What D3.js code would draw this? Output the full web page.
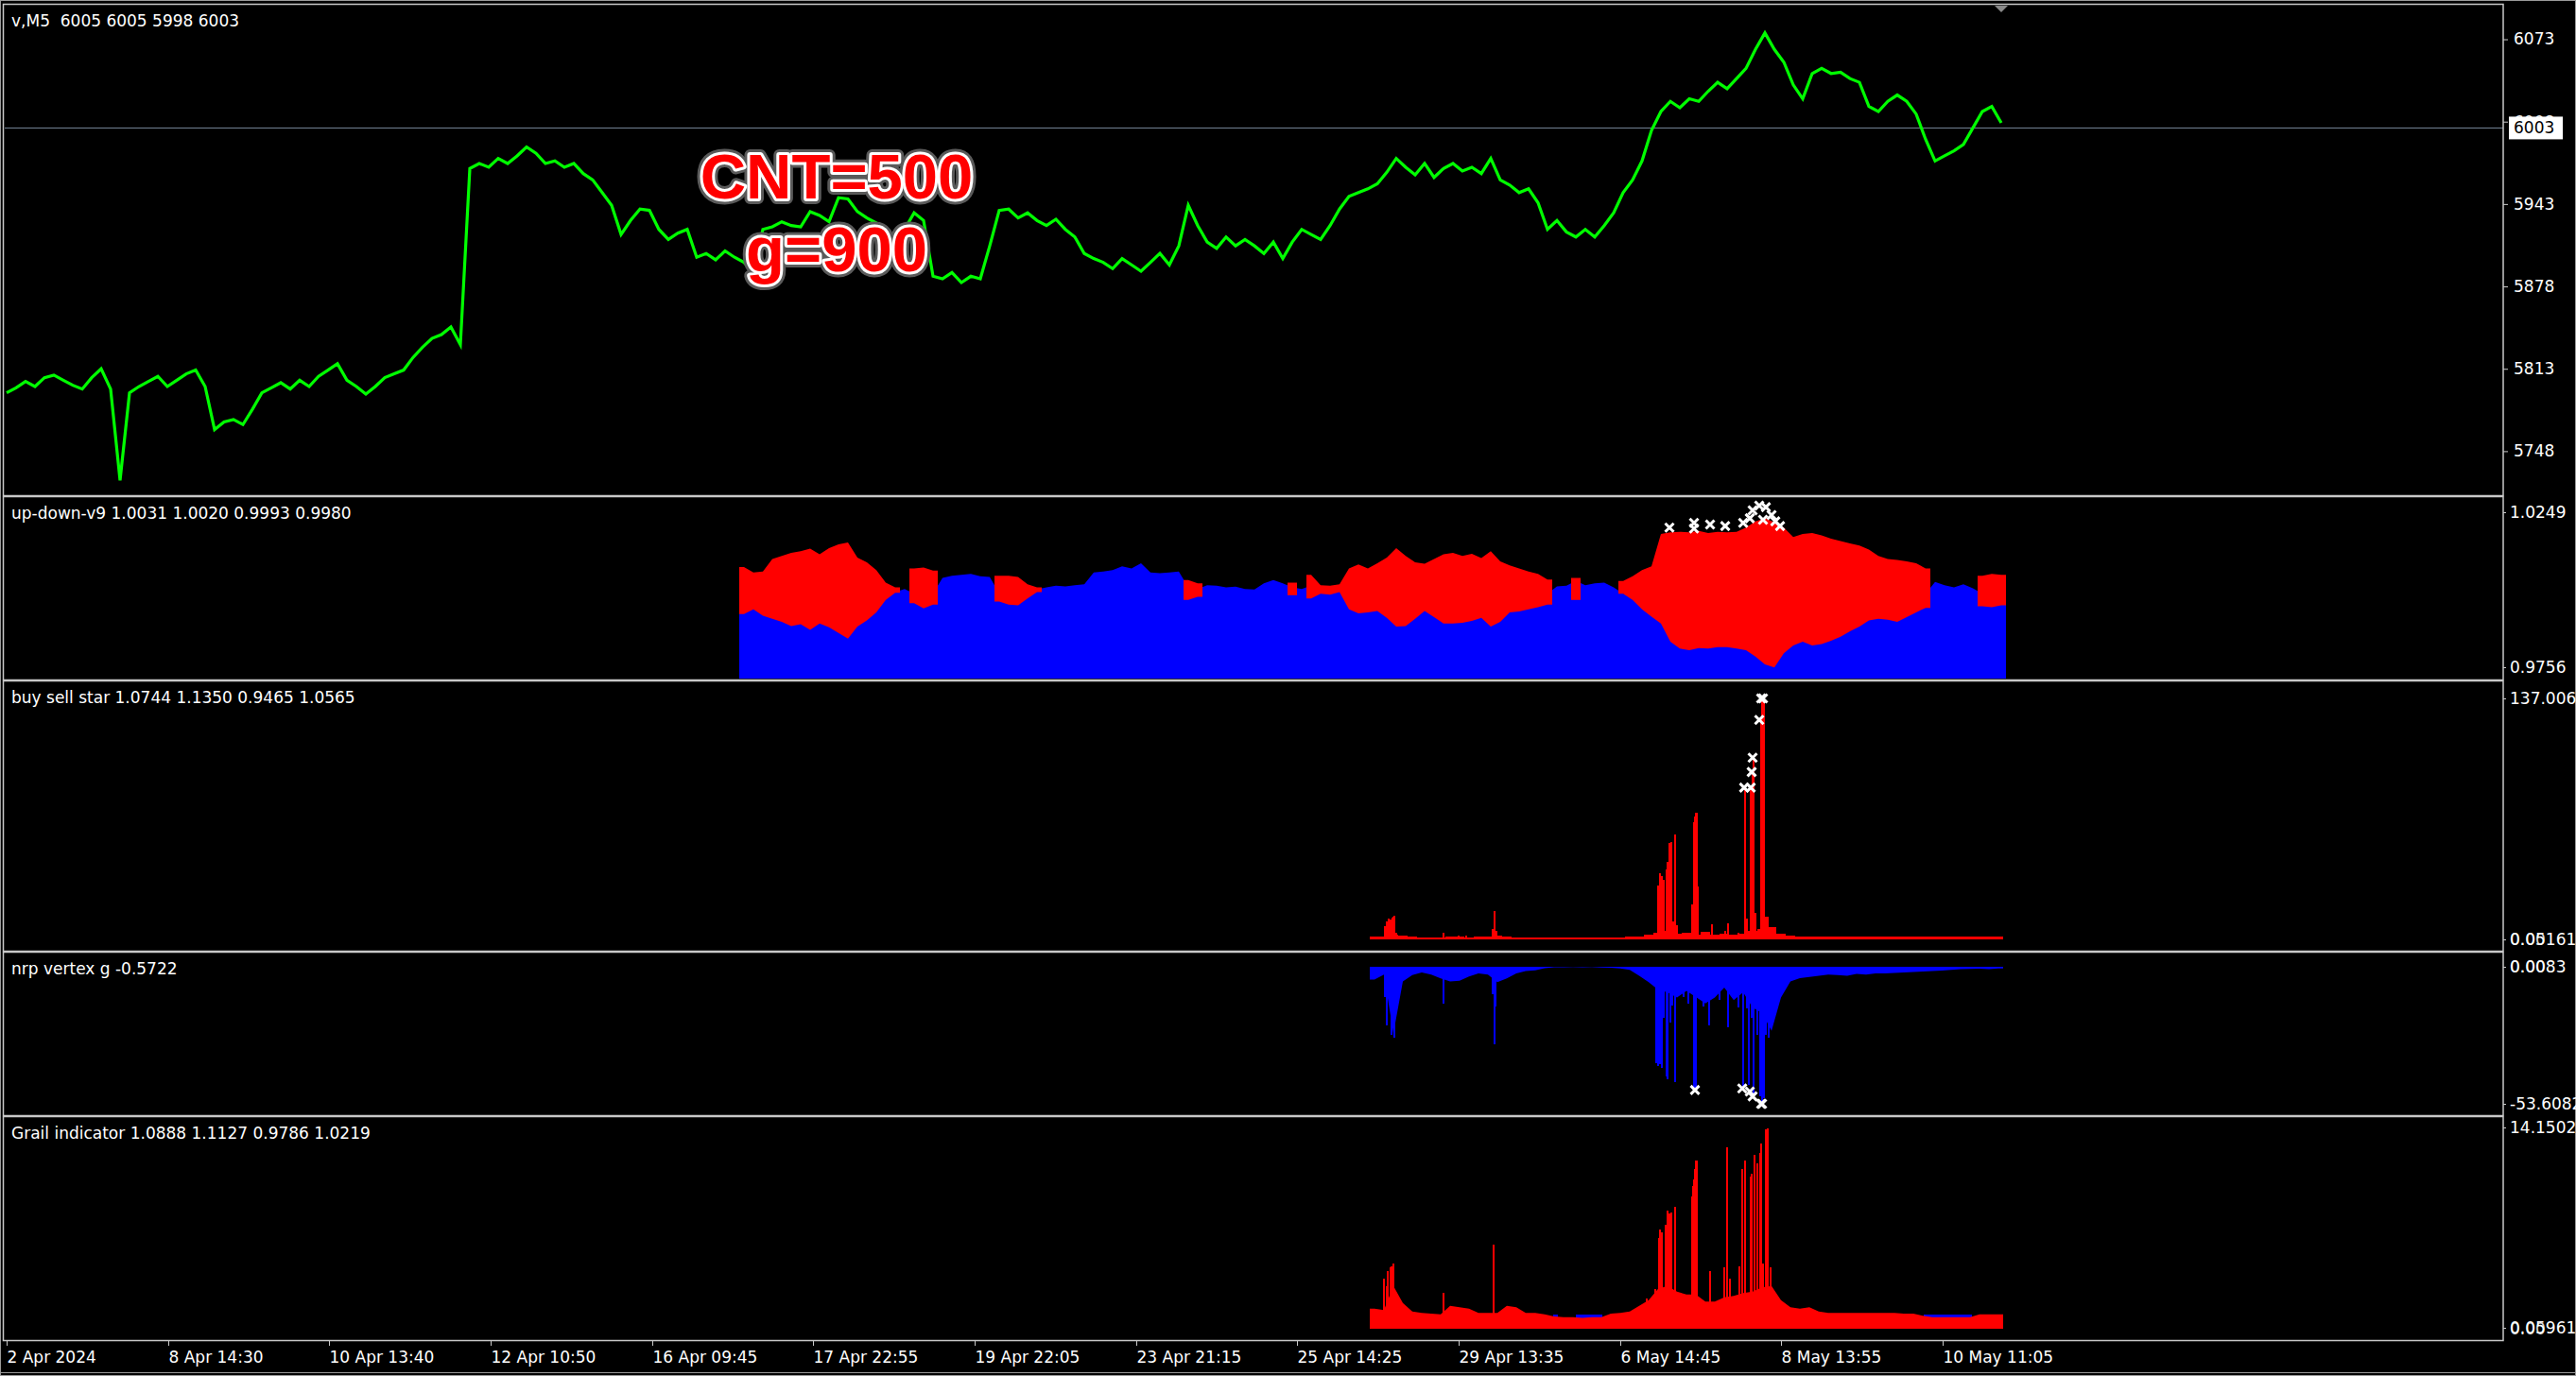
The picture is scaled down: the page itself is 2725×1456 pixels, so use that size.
<!DOCTYPE html>
<html><head><meta charset="utf-8">
<script src="https://cdn.jsdelivr.net/npm/d3@7"></script>
<style>
html,body{margin:0;padding:0;background:#000;}
svg{display:block;}
text{font-family:"DejaVu Sans",Verdana,sans-serif;}
</style></head><body>
<svg id="chart" width="2725" height="1456"></svg>
<script>
// ---------------- DATA ----------------
const timeLabels = ["2 Apr 2024","8 Apr 14:30","10 Apr 13:40","12 Apr 10:50","16 Apr 09:45","17 Apr 22:55","19 Apr 22:05","23 Apr 21:15","25 Apr 14:25","29 Apr 13:35","6 May 14:45","8 May 13:55","10 May 11:05"];
const timeTickBars = [0,171,341,512,683,853,1024,1195,1365,1536,1707,1877,2048];

const priceTicks = [6073,6008,5943,5878,5813,5748];
const lastPrice = 6003;
const priceStep = 10; // bars between samples
const price = [
5794,5798,5803,5799,5806,5808,5804,5800,5797,5806,
5813,5797,5725,5794,5799,5803,5807,5799,5804,5809,
5812,5799,5765,5771,5773,5769,5781,5794,5798,5802,
5797,5804,5799,5807,5812,5817,5804,5799,5793,5799,
5806,5809,5812,5822,5830,5837,5840,5846,5832,5971,
5975,5972,5979,5975,5981,5988,5983,5975,5977,5972,
5975,5967,5962,5952,5942,5919,5930,5939,5938,5923,
5915,5920,5923,5901,5904,5899,5906,5901,5897,5889,
5923,5925,5929,5926,5925,5937,5934,5929,5948,5947,
5937,5932,5928,5910,5899,5923,5936,5930,5886,5884,
5889,5881,5886,5884,5910,5938,5939,5932,5936,5930,
5926,5931,5923,5917,5904,5900,5897,5892,5900,5895,
5890,5897,5904,5895,5910,5942,5926,5913,5908,5917,
5910,5915,5910,5904,5913,5900,5913,5923,5919,5915,
5926,5939,5949,5952,5955,5959,5968,5979,5972,5966,
5975,5964,5971,5975,5969,5972,5967,5979,5962,5958,
5952,5955,5944,5923,5930,5921,5917,5923,5917,5926,
5936,5952,5962,5977,6001,6016,6024,6019,6026,6024,
6032,6039,6034,6042,6050,6065,6078,6065,6055,6037,
6026,6046,6050,6046,6047,6042,6039,6020,6016,6024,
6029,6024,6014,5994,5977,5981,5985,5990,6003,6016,
6020,6007];

// up-down-v9 (one sample per 10 bars, from bar 775)
const udStart = 775, udStep = 10;
const udTicks = [1.0249, 0.9756];
const udBlue = [
0.9990,0.9990,0.9990,0.9990,0.9990,0.9990,0.9990,0.9990,0.9990,0.9990,0.9990,0.9990,0.9990,0.9990,0.9990,0.9990,
0.9995,1.0005,0.9990,0.9990,0.9990,
1.0040,1.0047,1.0050,1.0053,1.0045,1.0043,
0.9990,0.9990,0.9990,0.9990,1.0003,
1.0010,1.0015,1.0013,1.0017,1.0020,
1.0057,1.0060,1.0065,1.0077,1.0070,1.0087,1.0057,1.0055,1.0057,1.0060,
1.0010,1.0005,
1.0017,1.0015,1.0010,1.0012,1.0005,1.0003,1.0023,1.0033,1.0023,
1.0010,1.0005,1.0015,1.0010,1.0010,1.0015,
0.9990,0.9990,0.9990,0.9990,0.9990,0.9990,0.9990,0.9990,0.9990,0.9990,0.9990,
0.9990,0.9990,0.9990,0.9990,0.9990,0.9990,0.9990,0.9990,0.9990,0.9990,0.9990,
1.0013,1.0015,1.0030,1.0017,1.0023,1.0025,1.0010,
0.9990,0.9990,0.9990,0.9990,0.9990,0.9990,0.9990,0.9990,0.9990,0.9990,0.9990,
0.9990,0.9990,0.9990,0.9990,0.9990,0.9990,0.9990,0.9990,0.9990,0.9990,0.9990,
0.9990,0.9990,0.9990,0.9990,0.9990,0.9990,0.9990,0.9990,0.9990,0.9990,0.9990,
1.0027,1.0017,1.0010,1.0020,1.0007,
0.9990,0.9990,0.9990];
const udRedHi = [
1.0075,1.0057,1.0060,1.0100,1.0110,1.0120,1.0125,1.0133,1.0115,1.0135,1.0147,1.0153,1.0105,1.0090,1.0065,1.0025,
1.0010,null,1.0070,1.0073,1.0063,
null,null,null,null,null,null,
1.0047,1.0047,1.0043,1.0020,1.0010,
null,null,null,null,null,
null,null,null,null,null,null,null,null,null,null,
1.0033,1.0023,
null,null,null,null,null,null,null,null,null,
1.0025,null,1.0050,1.0017,1.0015,1.0020,
1.0070,1.0083,1.0070,1.0087,1.0105,1.0135,1.0110,1.0090,1.0085,1.0100,1.0115,
1.0120,1.0110,1.0117,1.0103,1.0125,1.0093,1.0080,1.0070,1.0060,1.0053,1.0035,
null,null,1.0040,null,null,null,null,
1.0030,1.0045,1.0065,1.0077,1.0180,1.0185,1.0187,1.0185,1.0190,1.0183,1.0187,
1.0185,1.0187,1.0200,1.0220,1.0230,1.0217,1.0200,1.0170,1.0180,1.0183,1.0175,
1.0165,1.0157,1.0150,1.0143,1.0130,1.0110,1.0100,1.0097,1.0093,1.0087,1.0070,
null,null,null,null,null,
1.0047,1.0053,1.0050];
const udRedLo = [
0.9925,0.9940,0.9920,0.9910,0.9900,0.9887,0.9893,0.9875,0.9895,0.9883,0.9865,0.9847,0.9885,0.9905,0.9930,0.9970,
0.9993,null,0.9960,0.9943,0.9955,
null,null,null,null,null,null,
0.9965,0.9955,0.9953,0.9975,0.9995,
null,null,null,null,null,
null,null,null,null,null,null,null,null,null,null,
0.9970,0.9980,
null,null,null,null,null,null,null,null,null,
0.9985,null,0.9975,0.9990,0.9987,0.9995,
0.9940,0.9927,0.9930,0.9935,0.9913,0.9885,0.9887,0.9910,0.9935,0.9915,0.9895,
0.9895,0.9897,0.9903,0.9913,0.9885,0.9900,0.9930,0.9933,0.9940,0.9947,0.9955,
null,null,0.9970,null,null,null,null,
0.9990,0.9970,0.9940,0.9917,0.9895,0.9837,0.9815,0.9810,0.9817,0.9815,0.9820,
0.9820,0.9815,0.9810,0.9790,0.9765,0.9755,0.9800,0.9825,0.9837,0.9825,0.9830,
0.9840,0.9853,0.9870,0.9885,0.9905,0.9910,0.9907,0.9900,0.9915,0.9930,0.9945,
null,null,null,null,null,
0.9950,0.9947,0.9953];
const udMarkBars = [1759,1785,1785,1802,1818,1837,1844,1847,1854,1858,1861,1867,1871,1876];
const udMarkVals = [1.0200,1.0215,1.0197,1.0210,1.0205,1.0215,1.0230,1.0255,1.0270,1.0225,1.0265,1.0240,1.0220,1.0205];

// buy sell star
const bssStart = 1442, bssStep = 10;
const bssTicks = [137.006, 0.05161];
const bssBase = [
1.4,1.8,3.0,2.0,1.4,1.3,1.3,1.3,1.5,1.4,
1.3,1.4,1.4,2.0,1.6,1.3,1.3,1.3,1.3,1.3,
1.3,1.3,1.3,1.3,1.3,1.3,1.3,1.4,1.8,2.5,
4.0,5.0,3.5,4.0,3.0,4.5,3.0,3.5,2.5,3.5,
5.0,6.0,7.0,3.5,2.0,1.6,1.4,1.4,1.4,1.4,
1.4,1.4,1.4,1.4,1.4,1.4,1.4,1.4,1.4,1.4,
1.4,1.4,1.4,1.4,1.4,1.4,1.4];
const bssSpikeBars = [1457,1459,1461,1463,1465,1466,1467,1469,1472,1519,1535,1543,1571,1573,1575,
 1746,1748,1750,1752,1755,1756,1758,1760,1762,1764,1766,1782,1784,1785,1786,1787,1788,
 1803,1817,1820,1831,1838,1840,1844,1846,1847,1849,1855,1856,1858,1860,1862,1865];
const bssSpikeVals = [7.5,10.2,12,11.5,12.3,12.9,13.5,3.9,2.0,3.9,2.0,2.0,6,16.1,5,
 30.8,37.6,36.1,34,40,44.2,54.9,55.5,10,59.8,8,20,66.6,70,72,72,30,
 8.4,5,9.3,4,85.4,12,86.3,95.2,103.3,15,124.8,137,137,12.9,12.9,6];
const bssBlueStart = [1629,1661], bssBlueEnd = [1645,1686], bssBlueVal = [1.0,1.0];
const bssMarkBars = [1838,1845,1846,1847,1854,1856,1858];
const bssMarkVals = [86.3,86.3,95.2,103.3,124.8,137.0,137.0];

// nrp vertex g
const nrpStart = 1442, nrpStep = 10;
const nrpTicks = [0.0083, -53.6082];
const nrpBase = [
-5.0,-3.0,-26.0,-5.7,-3.2,-2.2,-3.0,-4.5,-5.7,-5.4,
-3.8,-2.6,-3.0,-6.0,-4.5,-2.6,-1.7,-1.4,-0.5,-0.2,
-0.2,-0.1,-0.2,-0.1,-0.3,-0.4,-0.6,-1.2,-3.5,-6.0,
-9.0,-10.0,-12.0,-9.4,-11.8,-14.3,-12.0,-8.1,-13.0,-10.0,
-16.0,-18.0,-25.0,-12.0,-5.7,-4.4,-4.0,-3.5,-3.0,-3.2,
-3.5,-2.8,-3.0,-2.6,-2.6,-2.4,-2.2,-2.0,-1.8,-1.7,
-1.5,-1.2,-0.9,-0.8,-0.7,-0.9,-0.6];
const nrpSpikeBars = [1457,1459,1464,1467,1519,1571,1573,1574,
 1744,1746,1748,1750,1752,1755,1756,1759,1761,1764,1768,1773,1778,1784,1786,
 1792,1794,1800,1811,1820,1831,1836,1840,1842,1845,1847,1849,1851,1854,1856,1858,1860,1863,1865,1867];
const nrpSpikeVals = [-11.8,-23,-26.6,-27.9,-14.3,-10.6,-30.3,-15.5,
 -37.7,-39,-38,-39.6,-19.9,-42.7,-43.9,-21.7,-15,-45.1,-9.4,-11.8,-14.3,-47.6,-47.6,
 -12,-15.5,-23,-13.1,-23.5,-16,-47.6,-16.1,-46.3,-20,-50,-16,-26.6,-50.7,-54,-51.5,-26.6,-27.9,-17.4,-9.4];
const nrpMarkBars = [1786,1836,1844,1847,1856,1857];
const nrpMarkVals = [-48.2,-47.6,-48.8,-50.7,-53.6,-53.6];

// Grail indicator
const grStart = 1442, grStep = 10;
const grTicks = [14.1502, 0.05961];
const grBase = [
1.4,1.3,3.0,1.8,1.2,1.1,1.05,1.0,1.6,1.5,
1.4,1.1,1.1,1.1,1.6,1.5,1.1,1.1,1.0,0.85,
0.8,0.8,0.75,0.8,0.8,1.05,1.1,1.2,1.6,2.0,
2.8,3.0,2.6,2.4,2.4,1.9,1.9,2.2,2.3,2.5,
2.6,2.9,3.0,2.0,1.5,1.4,1.5,1.2,1.1,1.1,
1.1,1.1,1.1,1.1,1.1,1.1,1.05,1.05,0.9,0.8,
0.8,0.8,0.8,0.8,1.0,1.0,1.0];
const grSpikeBars = [1456,1459,1460,1463,1464,1466,1467,1469,1519,1572,1734,1743,
 1747,1748,1750,1754,1756,1758,1760,1764,1782,1783,1784,1785,1786,1787,
 1801,1816,1819,1822,1832,1835,1838,1844,1845,1848,1851,1854,1855,1857,1860,1862,1865,1867];
const grSpikeVals = [3.5,3.0,4.05,4.3,4.4,4.6,2.5,2.5,2.5,5.9,2.1,2.8,
 6.4,7.0,6.8,7.3,8.3,8.1,8.15,8.6,9.3,10.0,10.5,11.2,11.8,11.8,
 4.05,4.3,12.76,3.5,4.4,11.25,11.8,10.7,10.9,12.25,11.6,12.36,13.0,4.6,14.0,14.09,4.3,2.7];
const grBlueStart = [1636,1660,2028], grBlueEnd = [1641,1688,2079], grBlueVal = [1.0,1.0,1.0];

const titles = {
  main: "v,M5  6005 6005 5998 6003",
  ud: "up-down-v9 1.0031 1.0020 0.9993 0.9980",
  bss: "buy sell star 1.0744 1.1350 0.9465 1.0565",
  nrp: "nrp vertex g -0.5722",
  grail: "Grail indicator 1.0888 1.1127 0.9786 1.0219"
};
const noteLines = ["CNT=500", "g=900"];

// ---------------- LAYOUT ----------------
const W = 2725, H = 1456;
const PL = 5, PR = 2648;
const layout = {
  main: {top: 6, bottom: 523},
  ud: {top: 527, bottom: 718},
  bss: {top: 722, bottom: 1005},
  nrp: {top: 1009, bottom: 1179},
  grail: {top: 1183, bottom: 1417}
};
const FONT = 17;
const FG = "#ffffff";

const svg = d3.select("#chart");
svg.append("rect").attr("width", W).attr("height", H).attr("fill", "#000");

const x = d3.scaleLinear().domain([0, 2641]).range([7, 2648]);
const yMain = d3.scaleLinear().domain([5714, 6099.5]).range([523, 6]);
const yUD = d3.scaleLinear().domain([udTicks[1], udTicks[0]]).range([706, 542]);
const yBSS = d3.scaleLinear().domain([bssTicks[1], bssTicks[0]]).range([994, 739]);
const yNRP = d3.scaleLinear().domain([nrpTicks[1], nrpTicks[0]]).range([1168, 1023]);
const yGR = d3.scaleLinear().domain([grTicks[1], grTicks[0]]).range([1405, 1193]);

const defs = svg.append("defs");
Object.entries(layout).forEach(([k, p]) => {
  defs.append("clipPath").attr("id", "clip-" + k).append("rect")
    .attr("x", PL).attr("y", p.top).attr("width", PR - PL).attr("height", p.bottom - p.top);
});
const layer = k => svg.append("g").attr("clip-path", `url(#clip-${k})`);

function drawBars(g, data, y, color) {
  g.append("g").selectAll("rect").data(data).join("rect")
    .attr("x", d => x(d.b0))
    .attr("width", d => Math.max(1, x(d.b1) - x(d.b0)))
    .attr("y", d => Math.min(y(d.v0), y(d.v1)))
    .attr("height", d => Math.max(1, Math.abs(y(d.v1) - y(d.v0))))
    .attr("fill", color).attr("shape-rendering", "crispEdges");
}
// filled band between lo/hi series, split into runs of defined samples
function drawBand(g, lo, hi, start, step, y, color) {
  const runs = [];
  let cur = null;
  hi.forEach((v, k) => {
    if (v != null && lo[k] != null) {
      if (!cur) { cur = []; runs.push(cur); }
      cur.push(k);
    } else cur = null;
  });
  const area = d3.area().x(d => x(d.b)).y0(d => y(d.lo)).y1(d => y(d.hi));
  runs.forEach(r => {
    const pts = [];
    pts.push({b: start + step * r[0], lo: lo[r[0]], hi: hi[r[0]]});
    r.forEach(k => pts.push({b: start + step * k + step / 2, lo: lo[k], hi: hi[k]}));
    const kl = r[r.length - 1];
    pts.push({b: start + step * (kl + 1), lo: lo[kl], hi: hi[kl]});
    g.append("path").datum(pts).attr("d", area).attr("fill", color);
  });
}
const xPath = s => `M${-s},${-s}L${s},${s}M${-s},${s}L${s},${-s}`;
function drawMarks(g, bars, vals, y) {
  g.append("g").selectAll("path").data(bars.map((b, i) => ({b, v: vals[i]}))).join("path")
    .attr("d", xPath(4.5))
    .attr("transform", d => `translate(${x(d.b)},${y(d.v)})`)
    .attr("stroke", "#fff").attr("stroke-width", 3).attr("fill", "none");
}

// ---------- main price ----------
const gMain = layer("main");
gMain.append("line").attr("x1", PL).attr("x2", PR)
  .attr("y1", yMain(lastPrice)).attr("y2", yMain(lastPrice))
  .attr("stroke", "#778899").attr("stroke-width", 1);
gMain.append("path").datum(price)
  .attr("d", d3.line().x((d, i) => x(i * priceStep)).y(d => yMain(d)))
  .attr("fill", "none").attr("stroke", "#00ff00").attr("stroke-width", 3.2)
  .attr("stroke-linejoin", "miter");

// note text
const note = svg.append("g");
noteLines.forEach((t, i) => {
  const ty = i === 0 ? 210 : 287;
  note.append("text").attr("x", 885).attr("y", ty).attr("text-anchor", "middle")
    .style("font-family", "'Liberation Sans',Arial,sans-serif").style("font-weight", "bold")
    .style("font-size", "67px").attr("fill", "none").attr("stroke", "#5a5a5a")
    .attr("stroke-width", 12).attr("stroke-linejoin", "round").text(t);
  note.append("text").attr("x", 885).attr("y", ty).attr("text-anchor", "middle")
    .style("font-family", "'Liberation Sans',Arial,sans-serif").style("font-weight", "bold")
    .style("font-size", "67px").attr("fill", "#ff0000").attr("stroke", "#ffffff")
    .attr("stroke-width", 6).attr("stroke-linejoin", "round")
    .style("paint-order", "stroke").text(t);
});

// ---------- up-down ----------
const gUD = layer("ud");
drawBand(gUD, udBlue.map(() => 0.96), udBlue, udStart, udStep, yUD, "#0000ff");
drawBand(gUD, udRedLo, udRedHi, udStart, udStep, yUD, "#ff0000");
drawMarks(svg.append("g"), udMarkBars, udMarkVals, yUD);

// ---------- buy sell star ----------
const gB = layer("bss");
drawBars(gB, bssBlueStart.map((s, i) => ({b0: s, b1: bssBlueEnd[i], v0: 0, v1: bssBlueVal[i]})), yBSS, "#0000ff");
drawBars(gB, bssBase.map((v, j) => ({b0: bssStart + bssStep * j, b1: bssStart + bssStep * (j + 1), v0: 0, v1: v})), yBSS, "#ff0000");
drawBars(gB, bssSpikeBars.map((b, i) => ({b0: b, b1: b + 2, v0: 0, v1: bssSpikeVals[i]})), yBSS, "#ff0000");
drawMarks(gB, bssMarkBars, bssMarkVals, yBSS);

// ---------- nrp vertex ----------
const gN = layer("nrp");
drawBand(gN, nrpBase.map(() => 0), nrpBase, nrpStart, nrpStep, yNRP, "#0000ff");
drawBars(gN, nrpSpikeBars.map((b, i) => ({b0: b, b1: b + 2, v0: 0, v1: nrpSpikeVals[i]})), yNRP, "#0000ff");
drawMarks(gN, nrpMarkBars, nrpMarkVals, yNRP);

// ---------- grail ----------
const gG = layer("grail");
drawBars(gG, grBlueStart.map((s, i) => ({b0: s, b1: grBlueEnd[i], v0: 0, v1: grBlueVal[i]})), yGR, "#0000ff");
drawBand(gG, grBase.map(() => 0), grBase, grStart, grStep, yGR, "#ff0000");
drawBars(gG, grSpikeBars.map((b, i) => ({b0: b, b1: b + 2, v0: 0, v1: grSpikeVals[i]})), yGR, "#ff0000");

// ---------- frames ----------
svg.append("rect").attr("x", 0.5).attr("y", 0.5).attr("width", W - 1).attr("height", H - 1)
  .attr("fill", "none").attr("stroke", "#9a9a9a").attr("stroke-width", 1);
svg.append("line").attr("x1", 0).attr("x2", W).attr("y1", 1452.5).attr("y2", 1452.5).attr("stroke", "#9a9a9a");
Object.values(layout).forEach(p => {
  svg.append("rect").attr("x", PL - 1.5).attr("y", p.top - 1.5)
    .attr("width", PR - PL + 1.5).attr("height", p.bottom - p.top + 3)
    .attr("fill", "none").attr("stroke", "#c8c8c8").attr("stroke-width", 1.5);
});
// chart-shift marker
svg.append("path").attr("d", `M${x(2103)},6L${x(2117)},6L${x(2110)},13Z`).attr("fill", "#8a8a8a");

// ---------- titles ----------
Object.entries(titles).forEach(([k, t]) => {
  const p = layout[k];
  svg.append("text").attr("x", 12).attr("y", p.top + 16).attr("dy", "0.35em")
    .style("font-size", FONT + "px").style("white-space", "pre").attr("fill", FG).text(t);
});

// ---------- axes ----------
function styleAxis(g) {
  g.select(".domain").remove();
  g.selectAll(".tick line").attr("stroke", "#c8c8c8");
  g.selectAll(".tick text").attr("fill", FG).style("font-size", FONT + "px")
    .style("font-family", "'DejaVu Sans',Verdana,sans-serif");
}
const axMain = svg.append("g").attr("transform", `translate(${PR},0)`)
  .call(d3.axisRight(yMain).tickValues(priceTicks).tickFormat(d3.format("d")).tickSize(5).tickSizeOuter(0).tickPadding(6));
styleAxis(axMain);

// last price box
const lp = svg.append("g").attr("transform", `translate(${PR + 6},${yMain(lastPrice)})`);
lp.append("rect").attr("x", 0).attr("y", -12).attr("width", 57).attr("height", 24).attr("fill", "#ffffff");
lp.append("text").attr("x", 5).attr("dy", "0.35em").style("font-size", FONT + "px").attr("fill", "#000").text(d3.format("d")(lastPrice));

const indAxes = [
  [yUD, udTicks, ["1.0249", "0.9756"]],
  [yBSS, bssTicks, ["137.006", "0.05161"]],
  [yNRP, nrpTicks, ["0.0083", "-53.6082"]],
  [yGR, grTicks, ["14.1502", "0.05961"]]
];
indAxes.forEach(([y, ticks, labels]) => {
  const g = svg.append("g").attr("transform", `translate(${PR},0)`)
    .call(d3.axisRight(y).tickValues(ticks).tickFormat((d, i) => labels[i]).tickSize(3).tickSizeOuter(0).tickPadding(4));
  styleAxis(g);
});
// overlapping zero-level labels (as drawn by the terminal)
[[yBSS, 0], [yNRP, 0], [yGR, 0]].forEach(([y, v]) => {
  svg.append("text").attr("x", PR + 7).attr("y", y(v)).attr("dy", "0.35em")
    .style("font-size", FONT + "px").attr("fill", FG).attr("opacity", 0.85).text(d3.format(".2f")(v));
});

// time axis
const axT = svg.append("g").attr("transform", `translate(0,${layout.grail.bottom + 1})`)
  .call(d3.axisBottom(x).tickValues(timeTickBars).tickFormat((d, i) => timeLabels[i]).tickSize(6).tickSizeOuter(0));
axT.select(".domain").remove();
axT.selectAll(".tick line").attr("stroke", "#c8c8c8");
axT.selectAll(".tick text").attr("fill", FG).style("font-size", FONT + "px")
  .style("font-family", "'DejaVu Sans',Verdana,sans-serif")
  .attr("text-anchor", "start").attr("x", 0).attr("y", 12);
</script>
</body></html>
